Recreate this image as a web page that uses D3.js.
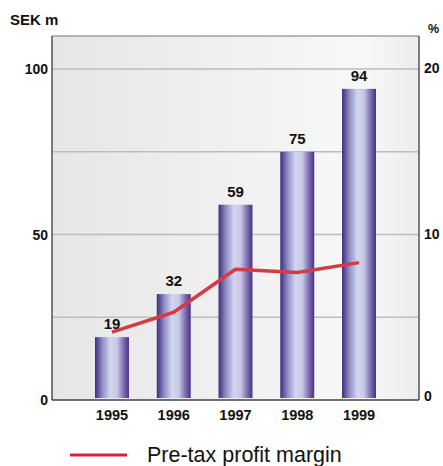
<!DOCTYPE html>
<html><head><meta charset="utf-8">
<script src="https://cdn.jsdelivr.net/npm/d3@7"></script>
<style>body{margin:0;background:#fff;}text{font-family:"Liberation Sans",Arial,sans-serif;}</style>
</head><body>
<svg id="c" width="443" height="466"></svg>
<script>
const years = ["1995","1996","1997","1998","1999"];
const profit = [19, 32, 59, 75, 94];
const margin = [4.1, 5.3, 7.9, 7.7, 8.3];
const leftTicks = [0, 50, 100];
const rightTicks = [0, 10, 20];
const gridTicks = [25, 50, 75, 100];

const svg = d3.select("#c");
const L = 52, R = 419, T = 36, B = 400;
const y = d3.scaleLinear().domain([0, 100]).range([B, 69]);
const y2 = d3.scaleLinear().domain([0, 20]).range([B, 69]);
const x = d3.scaleBand().domain(years).range([81.1, 389.9]).paddingInner(0.45).paddingOuter(0.225);

const defs = svg.append("defs");
const bg = defs.append("linearGradient").attr("id","bg").attr("x1","0").attr("x2","1").attr("y1","0").attr("y2","0");
bg.append("stop").attr("offset","0").attr("stop-color","#e6e6e6");
bg.append("stop").attr("offset","0.85").attr("stop-color","#f8f8f8");
bg.append("stop").attr("offset","1").attr("stop-color","#ececec");
const bar = defs.append("linearGradient").attr("id","bar").attr("x1","0").attr("x2","1").attr("y1","0").attr("y2","0");
bar.append("stop").attr("offset","0").attr("stop-color","#3e2c80");
bar.append("stop").attr("offset","0.22").attr("stop-color","#8f8fc4");
bar.append("stop").attr("offset","0.45").attr("stop-color","#d2d6f0");
bar.append("stop").attr("offset","0.65").attr("stop-color","#c6c8e6");
bar.append("stop").attr("offset","0.85").attr("stop-color","#7a6aae");
bar.append("stop").attr("offset","1").attr("stop-color","#4a3284");

svg.append("rect").attr("x",L).attr("y",T).attr("width",R-L).attr("height",B-T).attr("fill","url(#bg)");

svg.append("g").selectAll("line").data(gridTicks).join("line")
  .attr("x1",L).attr("x2",R).attr("y1",d=>y(d)).attr("y2",d=>y(d))
  .attr("stroke","#bdbdbd").attr("stroke-width",1.5);

// frame
svg.append("path").attr("d",`M${L},${B}V${T}H${R}V${B}`).attr("fill","none").attr("stroke","#777").attr("stroke-width",1);
svg.append("line").attr("x1",L).attr("x2",R).attr("y1",B).attr("y2",B).attr("stroke","#444").attr("stroke-width",1.5);
svg.append("line").attr("x1",L).attr("x2",L).attr("y1",T).attr("y2",B).attr("stroke","#555").attr("stroke-width",1.2);
svg.append("line").attr("x1",R).attr("x2",R).attr("y1",T).attr("y2",B).attr("stroke","#555").attr("stroke-width",1.2);

svg.append("g").selectAll("rect").data(profit).join("rect")
  .attr("x",(d,i)=>x(years[i])).attr("width",x.bandwidth())
  .attr("y",d=>y(d)).attr("height",d=>B-2-y(d)).attr("fill","url(#bar)");

svg.append("g").selectAll("text").data(profit).join("text")
  .attr("x",(d,i)=>x(years[i])+x.bandwidth()/2).attr("y",d=>y(d)-8)
  .attr("text-anchor","middle").attr("font-size",15).attr("font-weight","bold").attr("fill","#111")
  .text(d=>d);

const line = d3.line().x((d,i)=>x(years[i])+x.bandwidth()/2).y(d=>y2(d));
svg.append("path").datum(margin).attr("d",line).attr("fill","none")
  .attr("stroke","#d83a44").attr("stroke-width",3.5).attr("stroke-linejoin","round");

svg.append("g").selectAll("text").data(leftTicks).join("text")
  .attr("x",48).attr("y",d=>y(d)+5).attr("text-anchor","end")
  .attr("font-size",14).attr("font-weight","bold").attr("fill","#111").text(d=>d);
svg.append("g").selectAll("text").data(rightTicks).join("text")
  .attr("x",424).attr("y",d=>y2(d)+(d===0?1:4))
  .attr("font-size",14).attr("font-weight","bold").attr("fill","#111").text(d=>d);

svg.append("g").selectAll("text").data(years).join("text")
  .attr("x",d=>x(d)+x.bandwidth()/2).attr("y",420).attr("text-anchor","middle")
  .attr("font-size",14.5).attr("font-weight","bold").attr("fill","#111").text(d=>d);

svg.append("text").attr("x",10).attr("y",25).attr("font-size",15).attr("font-weight","bold").attr("fill","#111").text("SEK m");
svg.append("text").attr("x",428).attr("y",33).attr("font-size",12.5).attr("font-weight","bold").attr("fill","#111").text("%");

svg.append("line").attr("x1",70).attr("x2",127).attr("y1",455).attr("y2",455).attr("stroke","#d8203c").attr("stroke-width",3);
svg.append("text").attr("x",147).attr("y",462).attr("font-size",21.5).attr("fill","#111").text("Pre-tax profit margin");
</script>
</body></html>
